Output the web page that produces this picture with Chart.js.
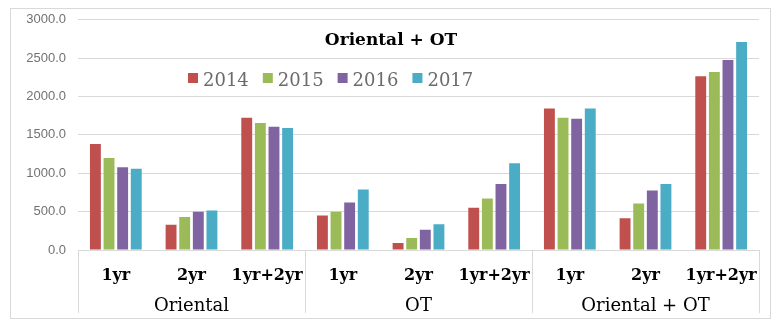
<!DOCTYPE html>
<html>
<head>
<meta charset="utf-8">
<title>Oriental + OT</title>
<script src="https://cdn.jsdelivr.net/npm/chart.js@4"></script>
<style>
    html, body { margin: 0; padding: 0; background: #fff; }
    #wrap { position: relative; width: 777px; height: 329px; }
    #frame { position: absolute; left: 10px; top: 8px; width: 759px; height: 309px; border: 1px solid #d9d9d9; pointer-events: none; }
    canvas { position: absolute; left: 0; top: 0; }
</style>
</head>
<body>
<div id="wrap">
    <canvas id="chart" width="777" height="329"></canvas>
    <div id="frame"></div>
</div>
<script>
// --- data ---
const subLabels = ['1yr', '2yr', '1yr+2yr', '1yr', '2yr', '1yr+2yr', '1yr', '2yr', '1yr+2yr'];
const groupLabels = ['Oriental', 'OT', 'Oriental + OT'];
const years = ['2014', '2015', '2016', '2017'];
const values2014 = [1380, 330, 1725, 450, 90, 550, 1845, 415, 2265];
const values2015 = [1200, 430, 1655, 500, 155, 670, 1725, 605, 2320];
const values2016 = [1080, 500, 1605, 620, 265, 860, 1710, 775, 2475];
const values2017 = [1060, 515, 1590, 790, 335, 1130, 1845, 860, 2710];
const yTicks = [0, 500, 1000, 1500, 2000, 2500, 3000];
const colors = ['#C0504D', '#9BBB59', '#8064A2', '#4BACC6'];

const SERIF = '"DejaVu Serif", serif';
const GRID = '#d9d9d9';

// title + legend sit inside the plot, between the gridlines
const innerLegend = {
    id: 'innerLegend',
    afterDatasetsDraw(chart) {
        const ctx = chart.ctx;
        const area = chart.chartArea;
        ctx.save();
        ctx.textBaseline = 'alphabetic';

        ctx.font = 'bold 17px ' + SERIF;
        ctx.fillStyle = '#000';
        ctx.textAlign = 'center';
        ctx.fillText('Oriental + OT', area.left + 313, 45);

        ctx.font = '18px ' + SERIF;
        ctx.textAlign = 'left';
        let x = area.left + 110;
        chart.data.datasets.forEach(ds => {
            ctx.fillStyle = ds.backgroundColor;
            ctx.fillRect(x, 73, 10, 10);
            ctx.fillStyle = '#6b6b6b';
            ctx.fillText(ds.label, x + 15, 86);
            x += 15 + ctx.measureText(ds.label).width + 14;
        });
        ctx.restore();
    }
};

// vertical separators of the two-level category axis
const groupDividers = {
    id: 'groupDividers',
    afterDraw(chart) {
        const xs = chart.scales.x;
        const ctx = chart.ctx;
        const step = xs.width / subLabels.length;
        const per = subLabels.length / groupLabels.length;
        ctx.save();
        ctx.strokeStyle = GRID;
        ctx.lineWidth = 1;
        for (let i = 0; i <= groupLabels.length; i++) {
            const px = Math.round(xs.left + i * per * step) + 0.5;
            ctx.beginPath();
            ctx.moveTo(px, chart.chartArea.bottom);
            ctx.lineTo(px, 313);
            ctx.stroke();
        }
        ctx.restore();
    }
};

const seriesValues = [values2014, values2015, values2016, values2017];

new Chart(document.getElementById('chart'), {
    type: 'bar',
    data: {
        labels: subLabels,
        datasets: years.map((y, i) => ({
            label: y,
            data: seriesValues[i],
            backgroundColor: colors[i],
            categoryPercentage: 0.72,
            barPercentage: 0.8
        }))
    },
    options: {
        responsive: false,
        animation: false,
        layout: { padding: { left: 10, right: 18, top: 18, bottom: 13 } },
        plugins: {
            legend: { display: false },
            title: { display: false },
            tooltip: { enabled: false }
        },
        scales: {
            x: {
                grid: { display: false },
                border: { display: true, color: GRID },
                ticks: {
                    color: '#000',
                    font: { family: SERIF, size: 16, weight: 'bold' },
                    padding: 8,
                    maxRotation: 0,
                    autoSkip: false
                },
                afterFit(scale) { scale.height = 36; }
            },
            x2: {
                type: 'category',
                position: 'bottom',
                labels: groupLabels,
                offset: true,
                grid: { display: false },
                border: { display: false },
                ticks: {
                    color: '#000',
                    font: { family: SERIF, size: 18 },
                    padding: 2,
                    maxRotation: 0,
                    autoSkip: false
                },
                afterFit(scale) { scale.height = 30; }
            },
            y: {
                min: 0,
                max: 3000,
                afterBuildTicks(scale) { scale.ticks = yTicks.map(v => ({ value: v })); },
                grid: { color: GRID, drawTicks: false },
                border: { display: false },
                ticks: {
                    color: '#727272',
                    font: { family: '"Liberation Sans", Arial, sans-serif', size: 13 },
                    padding: 12,
                    callback: v => v.toFixed(1)
                },
                afterFit(scale) { scale.width = 68; }
            }
        }
    },
    plugins: [innerLegend, groupDividers]
});
</script>
</body>
</html>
